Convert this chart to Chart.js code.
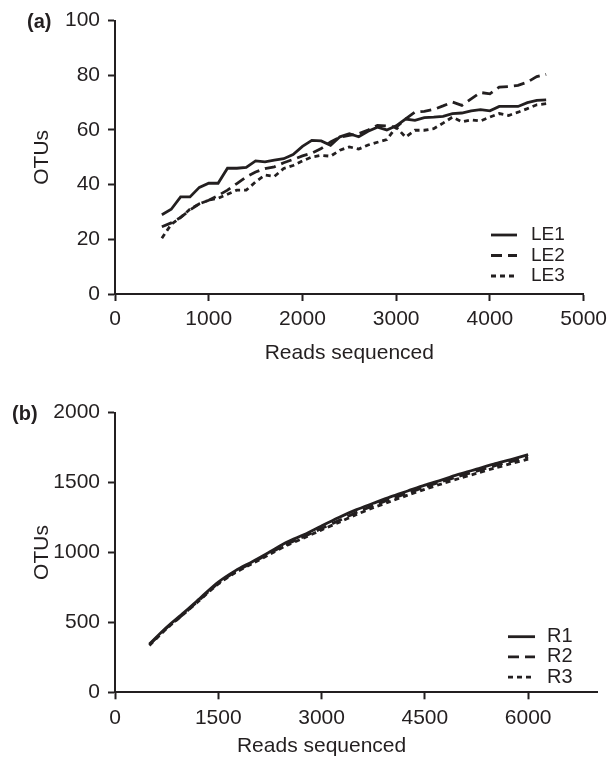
<!DOCTYPE html>
<html><head><meta charset="utf-8">
<script src="https://cdn.jsdelivr.net/npm/chart.js@4.4.1/dist/chart.umd.min.js"></script>
<style>
html,body{margin:0;padding:0;background:#fff;width:613px;height:766px;overflow:hidden}
canvas{position:absolute;left:0}
#ca{top:0}
#cb{top:380px}
</style></head><body>
<canvas id="ca" width="613" height="380" style="width:613px;height:380px"></canvas>
<canvas id="cb" width="613" height="386" style="width:613px;height:386px"></canvas>
<script>
// ---------- Panel (a) data ----------
const readsA = [500,600,700,800,900,1000,1100,1200,1300,1400,1500,1600,1700,1800,1900,2000,2100,2200,2300,2400,2500,2600,2700,2800,2900,3000,3100,3200,3300,3400,3500,3600,3700,3800,3900,4000,4100,4200,4300,4400,4500,4600];
const le1 = [29,31,35.5,35.5,39,40.5,40.5,46,46,46.3,48.7,48.3,49,49.5,51,54,56.2,56,54.4,57.5,58.6,57.5,59.5,61,60,61.5,64,63.5,64.5,64.7,65,66,66.2,67,67.4,67,68.6,68.6,68.6,70,70.8,71];
const le2 = [24.6,26,28,30.7,33,34.3,36,38,40.4,42.8,44.6,45.9,46.5,48,49.2,50.5,51.5,53.2,55.6,57.4,58,58.6,60,61.7,61.5,61,64,66.5,66.8,67.5,68.8,70.2,69,71.4,73.7,73.2,75.7,75.9,76.3,77.5,79.5,80.3];
const le3 = [20.4,25.5,28,31,33,34.3,35,36.5,38,38,41,43.5,43,45.9,47,48.7,50.1,50.7,50.4,52.6,53.8,53,54.5,55.5,56.5,61,57.4,59.9,59.9,60.5,62.5,64.7,63,63.7,63.3,64.7,66,65.3,66.5,67.8,69.2,69.6];
const seriesA = ['LE1','LE2','LE3'];
const xTicksA = [0,1000,2000,3000,4000,5000];
const yTicksA = [0,20,40,60,80,100];

// ---------- Panel (b) data ----------
const readsB = [500,750,1000,1250,1500,1750,2000,2250,2500,2750,3000,3250,3500,3750,4000,4250,4500,4750,5000,5250,5500,5750,6000];
const r1 = [345,465,570,680,788,870,936,1005,1075,1128,1190,1250,1305,1352,1398,1440,1482,1520,1560,1596,1632,1665,1700];
const r2 = [340,460,562,672,780,862,928,995,1060,1115,1172,1228,1285,1335,1382,1425,1468,1508,1546,1582,1618,1650,1682];
const r3 = [335,455,560,668,775,856,922,988,1052,1105,1162,1215,1270,1320,1365,1410,1452,1492,1530,1566,1602,1635,1668];
const seriesB = ['R1','R2','R3'];
const xTicksB = [0,1500,3000,4500,6000];
const yTicksB = [0,500,1000,1500,2000];

const panelTags = ['(a)','(b)'];
const xTitle = 'Reads sequenced';
const yTitle = 'OTUs';

const INK = '#231f20';
const FONT = "'Liberation Sans', Arial, Helvetica, sans-serif";
const dashes = [[], [11,6], [5,4]];

const panelDecor = {
  id: 'panelDecor',
  afterDraw(chart, args, o) {
    const ctx = chart.ctx;
    ctx.save();
    ctx.fillStyle = INK;
    ctx.textBaseline = 'middle';
    ctx.textAlign = 'left';
    ctx.font = 'bold 20px ' + FONT;
    ctx.fillText(o.tag, o.tagX, o.tagY);
    const xs = chart.scales.x;
    const t = xs.ticks;
    const cx = (xs.getPixelForValue(t[0].value) + xs.getPixelForValue(t[t.length - 1].value)) / 2;
    ctx.font = '21px ' + FONT;
    ctx.textAlign = 'center';
    ctx.fillText(o.xTitle, cx, o.xTitleY);
    ctx.font = o.legFont + 'px ' + FONT;
    chart.data.datasets.forEach((ds, i) => {
      const y = o.legY + i * o.legGap;
      ctx.beginPath();
      ctx.setLineDash(ds.borderDash || []);
      ctx.lineWidth = ds.borderWidth;
      ctx.strokeStyle = ds.borderColor;
      ctx.moveTo(o.legX1, y);
      ctx.lineTo(o.legX2, y);
      ctx.stroke();
      ctx.setLineDash([]);
      ctx.textAlign = 'left';
      ctx.fillText(ds.label, o.legTextX, y);
    });
    ctx.restore();
  }
};

function makeDatasets(xs, ys, names, tension) {
  return ys.map((arr, i) => ({
    label: names[i],
    data: xs.map((x, j) => ({x: x, y: arr[j]})),
    borderColor: INK,
    borderWidth: 2.8,
    borderDash: dashes[i],
    borderCapStyle: 'butt',
    pointRadius: 0,
    fill: false,
    tension: tension
  }));
}

function axisCommon() {
  return {
    grid: {drawOnChartArea: false, drawTicks: true, tickLength: 7, tickWidth: 2, tickColor: INK},
    border: {display: true, color: INK, width: 2}
  };
}

function makeOptions(c) {
  return {
    responsive: false,
    animation: false,
    devicePixelRatio: 1,
    layout: {padding: {top: c.padTop, right: c.padRight, bottom: c.padBottom, left: 0}},
    plugins: {legend: {display: false}, tooltip: {enabled: false}, panelDecor: c.decor},
    scales: {
      x: Object.assign(axisCommon(), {
        type: 'linear', min: c.xMin, max: c.xMax,
        afterFit(s) { s.height = c.xAxisH; },
        afterBuildTicks(s) { s.ticks = c.xTicks.map(v => ({value: v})); },
        ticks: {color: INK, font: {family: FONT, size: 21}, padding: 6, maxRotation: 0, autoSkip: false,
                callback: v => String(v)}
      }),
      y: Object.assign(axisCommon(), {
        type: 'linear', min: c.yMin, max: c.yMax,
        afterFit(s) { s.width = 115; },
        afterBuildTicks(s) { s.ticks = c.yTicks.map(v => ({value: v})); },
        ticks: {color: INK, font: {family: FONT, size: 21}, padding: 8, callback: v => String(v)},
        title: {display: true, text: yTitle, color: INK, font: {family: FONT, size: 21}, padding: {top: 30, bottom: 0}}
      })
    }
  };
}

new Chart(document.getElementById('ca'), {
  type: 'line',
  data: {datasets: makeDatasets(readsA, [le1, le2, le3], seriesA, 0)},
  options: makeOptions({
    padTop: 20, padRight: 26, padBottom: 10, xAxisH: 76,
    xMin: 0, xMax: 5000, xTicks: xTicksA, yMin: 0, yMax: 100, yTicks: yTicksA,
    decor: {tag: panelTags[0], tagX: 27, tagY: 22, xTitle: xTitle, xTitleY: 353,
            legFont: 19, legY: 235, legGap: 20.5, legX1: 491, legX2: 517, legTextX: 531}
  }),
  plugins: [panelDecor]
});

new Chart(document.getElementById('cb'), {
  type: 'line',
  data: {datasets: makeDatasets(readsB, [r1, r2, r3], seriesB, 0.3)},
  options: makeOptions({
    padTop: 32.7, padRight: 16, padBottom: 5, xAxisH: 68.7,
    xMin: 0, xMax: 7000, xTicks: xTicksB, yMin: 0, yMax: 2000, yTicks: yTicksB,
    decor: {tag: panelTags[1], tagX: 12, tagY: 34, xTitle: xTitle, xTitleY: 366,
            legFont: 20, legY: 256.7, legGap: 20.2, legX1: 508, legX2: 535, legTextX: 547}
  }),
  plugins: [panelDecor]
});
</script>
</body></html>
